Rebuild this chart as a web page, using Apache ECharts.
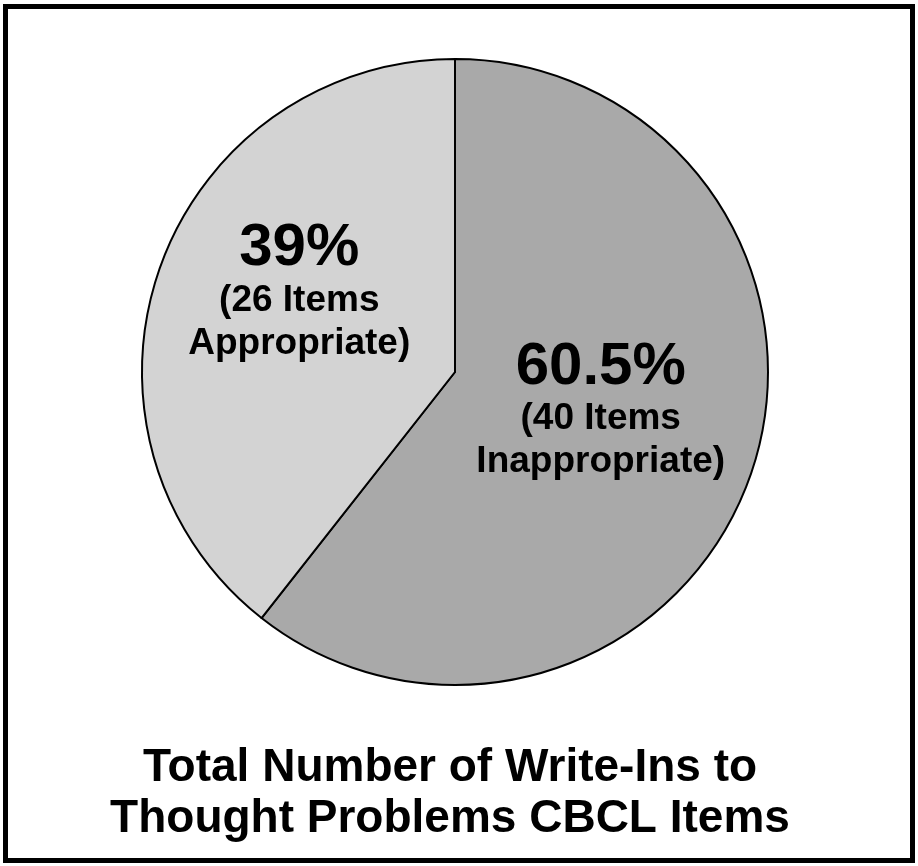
<!DOCTYPE html>
<html>
<head>
<meta charset="utf-8">
<script src="https://cdn.jsdelivr.net/npm/echarts@6/dist/echarts.min.js"></script>
<style>
html,body{margin:0;padding:0;background:#fff;}
#chart{width:918px;height:866px;}
</style>
</head>
<body>
<div id="chart"></div>
<script>
// Data
const categories = ['Inappropriate', 'Appropriate'];
const itemCounts = [40, 26];
const percentLabels = ['60.5%', '39%'];
const titleLines = ['Total Number of Write-Ins to', 'Thought Problems CBCL Items'];

const sliceColors = ['#a9a9a9', '#d3d3d3'];
const labelPadding = [[0, 10, 28, 0], [0, 10, 56, 0]];

const chart = echarts.init(document.getElementById('chart'), null, {renderer: 'canvas'});

const pieData = categories.map((c, i) => ({
  name: c,
  value: itemCounts[i],
  itemStyle: {color: sliceColors[i]},
  label: {padding: labelPadding[i]}
}));

chart.setOption({
  backgroundColor: '#ffffff',
  animation: false,
  title: {
    text: titleLines.join('\n'),
    left: 450,
    textAlign: 'center',
    top: 743,
    padding: 0,
    textStyle: {
      fontFamily: 'Liberation Sans, Arial, sans-serif',
      fontWeight: 'bold',
      fontSize: 46,
      lineHeight: 51,
      color: '#000'
    }
  },
  graphic: [{
    type: 'rect',
    shape: {x: 5.5, y: 6.5, width: 907, height: 854},
    style: {fill: 'none', stroke: '#000', lineWidth: 5},
    silent: true
  }],
  series: [{
    type: 'pie',
    center: [455, 372],
    radius: [0, 313],
    startAngle: 90,
    clockwise: true,
    avoidLabelOverlap: false,
    itemStyle: {borderColor: '#000', borderWidth: 2},
    label: {
      show: true,
      position: 'inside',
      formatter: function (p) {
        const i = p.dataIndex;
        return '{big|' + percentLabels[i] + '}\n{small|(' + itemCounts[i] + ' Items}\n{small|' + categories[i] + ')}';
      },
      rich: {
        big: {fontFamily: 'Liberation Sans, Arial, sans-serif', fontWeight: 'bold', fontSize: 60, lineHeight: 60, color: '#000'},
        small: {fontFamily: 'Liberation Sans, Arial, sans-serif', fontWeight: 'bold', fontSize: 37, lineHeight: 43, color: '#000'}
      }
    },
    labelLine: {show: false},
    data: pieData
  }]
});
</script>
</body>
</html>
